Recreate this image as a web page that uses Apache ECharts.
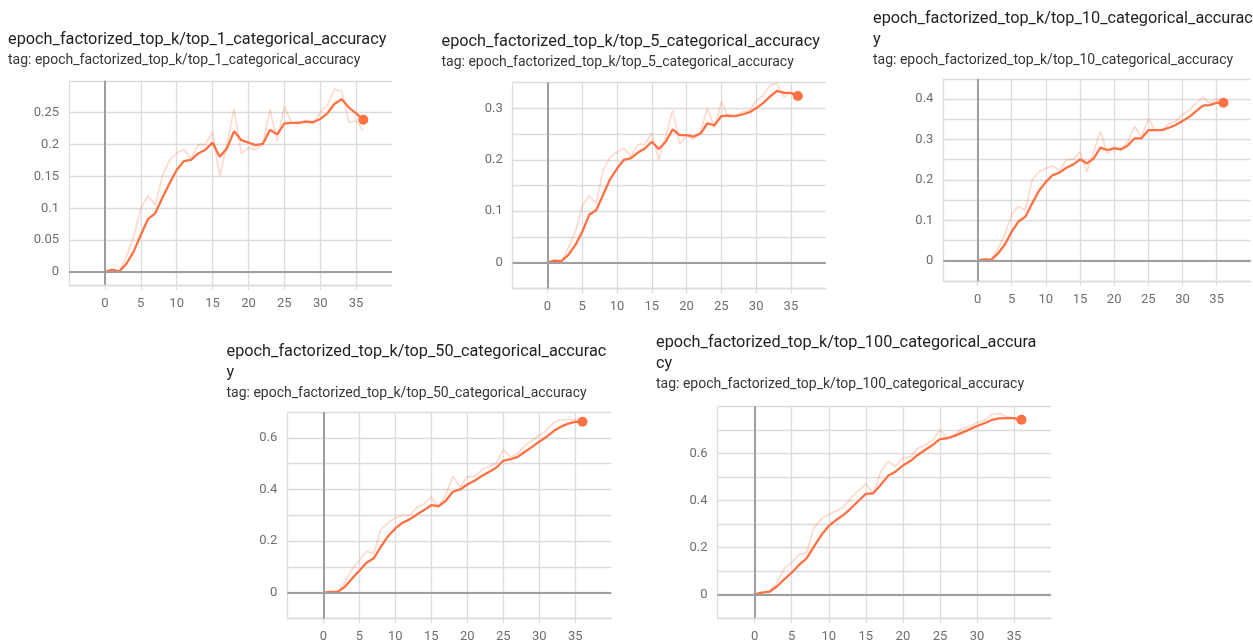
<!DOCTYPE html>
<html>
<head>
<meta charset="utf-8">
<script src="https://cdn.jsdelivr.net/npm/echarts@6.0.0/dist/echarts.min.js"></script>
<style>
html, body { margin: 0; padding: 0; background: #fff; }
#chart { width: 1253px; height: 640px; }
</style>
</head>
<body>
<div id="chart"></div>
<script>
// Epoch index shared by every panel
const epochs = [0,1,2,3,4,5,6,7,8,9,10,11,12,13,14,15,16,17,18,19,20,21,22,23,24,25,26,27,28,29,30,31,32,33,34,35,36];

// top_1 accuracy: raw per-epoch values and smoothed curve
const top1Raw = [0,0.004,0.001,0.025,0.055,0.1,0.12,0.105,0.15,0.175,0.187,0.192,0.178,0.2,0.2,0.22,0.15,0.2,0.256,0.186,0.195,0.192,0.2,0.255,0.205,0.26,0.234,0.233,0.238,0.233,0.25,0.262,0.287,0.283,0.235,0.237,0.222];
const top1Smooth = [0,0.004,0.001,0.013,0.032,0.058,0.083,0.092,0.116,0.139,0.16,0.174,0.176,0.186,0.192,0.203,0.181,0.194,0.221,0.207,0.203,0.199,0.201,0.223,0.216,0.233,0.234,0.234,0.236,0.235,0.24,0.249,0.264,0.271,0.258,0.249,0.239];

// top_5 accuracy
const top5Raw = [0,0.005,0.001,0.03,0.06,0.11,0.13,0.115,0.18,0.205,0.215,0.222,0.207,0.23,0.23,0.252,0.2,0.245,0.297,0.23,0.247,0.24,0.255,0.3,0.262,0.313,0.283,0.285,0.293,0.295,0.315,0.325,0.345,0.348,0.322,0.33,0.315];
const top5Smooth = [0,0.004,0.003,0.015,0.034,0.06,0.093,0.102,0.132,0.162,0.183,0.2,0.203,0.214,0.222,0.235,0.221,0.235,0.259,0.248,0.248,0.245,0.251,0.271,0.267,0.285,0.286,0.285,0.288,0.292,0.3,0.31,0.323,0.334,0.33,0.33,0.324];

// top_10 accuracy
const top10Raw = [0,0.004,0.002,0.03,0.065,0.115,0.135,0.125,0.2,0.22,0.228,0.235,0.222,0.25,0.25,0.27,0.22,0.27,0.32,0.265,0.282,0.272,0.295,0.332,0.305,0.352,0.323,0.323,0.338,0.345,0.362,0.372,0.39,0.405,0.39,0.4,0.39];
const top10Smooth = [0,0.003,0.002,0.018,0.04,0.072,0.097,0.109,0.142,0.173,0.195,0.212,0.218,0.23,0.238,0.251,0.241,0.253,0.28,0.274,0.278,0.276,0.285,0.303,0.303,0.323,0.323,0.323,0.329,0.336,0.346,0.356,0.37,0.384,0.385,0.391,0.391];

// top_50 accuracy
const top50Raw = [0,0.003,0.004,0.04,0.09,0.125,0.16,0.15,0.245,0.27,0.29,0.3,0.3,0.33,0.345,0.37,0.33,0.38,0.45,0.41,0.45,0.45,0.475,0.49,0.5,0.555,0.525,0.54,0.57,0.59,0.61,0.63,0.66,0.67,0.67,0.67,0.66];
const top50Smooth = [0,0.003,0.003,0.023,0.055,0.085,0.116,0.133,0.178,0.219,0.249,0.271,0.284,0.303,0.32,0.339,0.335,0.356,0.391,0.4,0.419,0.434,0.452,0.468,0.484,0.511,0.517,0.526,0.546,0.565,0.585,0.604,0.626,0.643,0.655,0.662,0.662];

// top_100 accuracy
const top100Raw = [0,0.008,0.012,0.05,0.11,0.135,0.17,0.175,0.285,0.32,0.34,0.355,0.37,0.41,0.44,0.47,0.43,0.52,0.565,0.545,0.58,0.585,0.62,0.635,0.655,0.7,0.665,0.68,0.705,0.715,0.73,0.74,0.765,0.77,0.755,0.75,0.73];
const top100Smooth = [0,0.007,0.011,0.033,0.064,0.092,0.125,0.153,0.203,0.252,0.291,0.316,0.338,0.366,0.397,0.427,0.43,0.465,0.504,0.522,0.548,0.567,0.593,0.614,0.635,0.66,0.664,0.674,0.688,0.702,0.716,0.728,0.742,0.749,0.75,0.75,0.743];

// Panel headings (wrapped where the card is too narrow) and tag lines
const headings = [
  'epoch_factorized_top_k/top_1_categorical_accuracy',
  'epoch_factorized_top_k/top_5_categorical_accuracy',
  'epoch_factorized_top_k/top_10_categorical_accurac\ny',
  'epoch_factorized_top_k/top_50_categorical_accurac\ny',
  'epoch_factorized_top_k/top_100_categorical_accura\ncy'
];
const tags = [
  'tag: epoch_factorized_top_k/top_1_categorical_accuracy',
  'tag: epoch_factorized_top_k/top_5_categorical_accuracy',
  'tag: epoch_factorized_top_k/top_10_categorical_accuracy',
  'tag: epoch_factorized_top_k/top_50_categorical_accuracy',
  'tag: epoch_factorized_top_k/top_100_categorical_accuracy'
];

// Axis extents and tick spacing per panel
const yMin = [-0.02, -0.05, -0.05, -0.1, -0.1];
const yMax = [0.3, 0.35, 0.45, 0.7, 0.8];
const yGridStep = [0.05, 0.05, 0.05, 0.1, 0.1];
const yLabelStep = [0.05, 0.1, 0.1, 0.2, 0.2];
const xMin = -5, xMax = 40, xStep = 5;

const rawSeries = [top1Raw, top5Raw, top10Raw, top50Raw, top100Raw];
const smoothSeries = [top1Smooth, top5Smooth, top10Smooth, top50Smooth, top100Smooth];

// Card layout on the page
const layout = [
  { left: 69,    top: 80.8,  width: 323,   height: 204,   tLeft: 8,     tTop: 29.5 },
  { left: 512.7, top: 82.6,  width: 313,   height: 205.8, tLeft: 441.5, tTop: 31.2 },
  { left: 943.4, top: 78.9,  width: 307.4, height: 202,   tLeft: 873,   tTop: 8.5 },
  { left: 287.3, top: 412,   width: 324,   height: 206.5, tLeft: 226.5, tTop: 341.2 },
  { left: 717.6, top: 406.3, width: 333.5, height: 211.5, tLeft: 656,   tTop: 332.2 }
];

const ORANGE = '#ff7043';
const GRID_COLOR = '#dcdcdc';
const ZERO_COLOR = '#9e9e9e';
const LABEL_COLOR = '#6e6e6e';
const FONT = 'Roboto, "Noto Sans", sans-serif';

function isMultiple(v, step) {
  const q = v / step;
  return Math.abs(q - Math.round(q)) < 1e-6;
}

const option = {
  backgroundColor: '#fff',
  animation: false,
  title: [], grid: [], xAxis: [], yAxis: [], series: []
};

layout.forEach((L, i) => {
  option.title.push({
    left: L.tLeft, top: L.tTop, padding: 0, itemGap: 1,
    text: headings[i],
    subtext: tags[i],
    textStyle: { fontFamily: FONT, fontSize: 16.3, fontWeight: 'normal', color: '#1f1f1f', lineHeight: 21 },
    subtextStyle: { fontFamily: FONT, fontSize: 14, color: '#363636', lineHeight: 18 }
  });
  option.grid.push({
    left: L.left, top: L.top, width: L.width, height: L.height,
    containLabel: false, outerBoundsMode: 'none', show: false
  });
  option.xAxis.push({
    type: 'value', gridIndex: i, min: xMin, max: xMax, interval: xStep,
    axisLine: { show: true, onZero: false, lineStyle: { color: GRID_COLOR, width: 1.3 } },
    axisTick: { show: true, length: 5, lineStyle: { color: GRID_COLOR, width: 1.3 } },
    splitLine: { show: true, showMaxLine: false, lineStyle: { color: GRID_COLOR, width: 1.3 } },
    axisLabel: {
      show: true, margin: 12, fontFamily: FONT, fontSize: 13, color: LABEL_COLOR,
      showMinLabel: false, showMaxLabel: false,
      formatter: v => (v < 0 || v >= xMax) ? '' : String(v)
    }
  });
  option.yAxis.push({
    type: 'value', gridIndex: i, min: yMin[i], max: yMax[i],
    minInterval: yGridStep[i], maxInterval: yGridStep[i],
    axisLine: { show: false }, axisTick: { show: false },
    splitLine: { show: true, lineStyle: { color: GRID_COLOR, width: 1.3 } },
    axisLabel: {
      show: true, margin: 10, fontFamily: FONT, fontSize: 13, color: LABEL_COLOR,
      formatter: v => {
        if (v < -1e-9 || v > yMax[i] - 1e-9) return '';
        if (!isMultiple(v, yLabelStep[i])) return '';
        return String(+v.toFixed(3));
      }
    }
  });

  const raw = rawSeries[i], smooth = smoothSeries[i];
  option.series.push({
    type: 'line', xAxisIndex: i, yAxisIndex: i, z: 2,
    data: epochs.map((e, k) => [e, raw[k]]),
    showSymbol: false, symbol: 'none', silent: true,
    lineStyle: { color: ORANGE, width: 1.7, opacity: 0.26 },
    markLine: {
      silent: true, symbol: 'none', animation: false,
      label: { show: false },
      lineStyle: { color: ZERO_COLOR, width: 2, type: 'solid', opacity: 1 },
      emphasis: { disabled: true },
      data: [{ yAxis: 0 }, { xAxis: 0 }]
    }
  });
  option.series.push({
    type: 'line', xAxisIndex: i, yAxisIndex: i, z: 3,
    data: epochs.map((e, k) => [e, smooth[k]]),
    showSymbol: false, symbol: 'none', silent: true,
    lineStyle: { color: ORANGE, width: 2.3 }
  });
  const last = epochs.length - 1;
  option.series.push({
    type: 'scatter', xAxisIndex: i, yAxisIndex: i, z: 4, silent: true,
    data: [[epochs[last], smooth[last]]],
    symbolSize: 10,
    itemStyle: { color: ORANGE, opacity: 1 }
  });
});

const chart = echarts.init(document.getElementById('chart'), null, { renderer: 'canvas' });
chart.setOption(option);
</script>
</body>
</html>
